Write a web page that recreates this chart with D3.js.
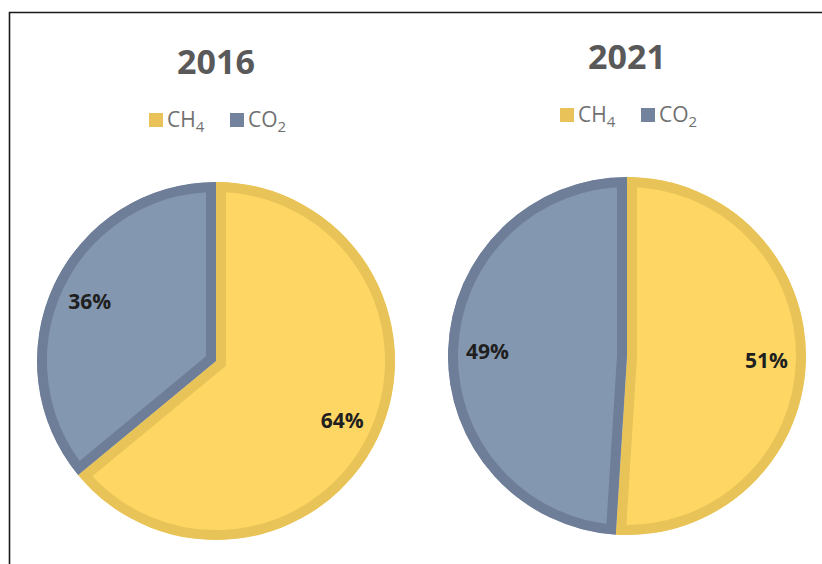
<!DOCTYPE html>
<html>
<head>
<meta charset="utf-8">
<script src="https://cdn.jsdelivr.net/npm/d3@7"></script>
<style>
  body { margin: 0; background: #fff; }
  svg { display: block; }
</style>
</head>
<body>
<div id="chart"></div>
<script>
// data
const years = ['2016', '2021'];
const gases = ['CH4', 'CO2'];
const shares2016 = [64, 36];
const shares2021 = [51, 49];

const w = 822;
const h = 564;
const fills = { CH4: '#FDD664', CO2: '#8497B0' };
const edges = { CH4: '#E8C358', CO2: '#6F7E98' };

const svg = d3.select('#chart')
  .append('svg')
  .attr('width', w)
  .attr('height', h);

// frame (top and left edges visible, rest cut off)
svg.append('path')
  .attr('d', 'M9.5,' + h + ' L9.5,12.5 L' + w + ',12.5')
  .attr('fill', 'none')
  .attr('stroke', '#1a1a1a')
  .attr('stroke-width', 1.6);

const defs = svg.append('defs');

const charts = [
  { year: years[0], values: shares2016, cx: 216, cy: 361, r: 179, titleY: 74, legendY: 127 },
  { year: years[1], values: shares2021, cx: 627, cy: 356, r: 179, titleY: 69, legendY: 122 }
];

const pie = d3.pie().sort(null).value(d => d.v);

charts.forEach((c, ci) => {
  const g = svg.append('g').attr('transform', 'translate(' + c.cx + ',' + c.cy + ')');

  svg.append('text')
    .attr('x', c.cx)
    .attr('y', c.titleY)
    .attr('text-anchor', 'middle')
    .attr('font-family', 'Open Sans, DejaVu Sans, sans-serif')
    .attr('font-weight', 'bold')
    .attr('font-size', 34)
    .attr('fill', '#595959')
    .text(c.year);

  // legend
  const leg = svg.append('g').attr('transform', 'translate(' + (c.cx - 67) + ',' + c.legendY + ')');
  gases.forEach((gname, i) => {
    const item = leg.append('g').attr('transform', 'translate(' + (i * 81) + ',0)');
    item.append('rect')
      .attr('x', 0).attr('y', -14)
      .attr('width', 14).attr('height', 14)
      .attr('fill', i === 0 ? '#E9C25A' : '#73839E');
    const t = item.append('text')
      .attr('x', 18)
      .attr('y', 0)
      .attr('font-family', 'Open Sans, DejaVu Sans, sans-serif')
      .attr('font-size', 21)
      .attr('fill', '#707070');
    t.append('tspan').text(gname.slice(0, 2));
    t.append('tspan').attr('font-size', 15).attr('dy', 5).text(gname.slice(2));
  });

  const data = pie(gases.map((gname, i) => ({ k: gname, v: c.values[i] })));
  const arc = d3.arc().innerRadius(0).outerRadius(c.r);
  const labelArc = d3.arc().innerRadius(c.r * 0.78).outerRadius(c.r * 0.78);

  data.forEach((d, i) => {
    const id = 'clip' + ci + '_' + i;
    // clip path lives in the slice's own (translated) user space
    defs.append('clipPath').attr('id', id)
      .append('path')
      .attr('d', arc(d));
    g.append('path')
      .attr('d', arc(d))
      .attr('clip-path', 'url(#' + id + ')')
      .attr('fill', fills[d.data.k])
      .attr('stroke', edges[d.data.k])
      .attr('stroke-width', 20)
      .attr('stroke-linejoin', 'miter');
  });

  data.forEach(d => {
    const p = labelArc.centroid(d);
    g.append('text')
      .attr('x', p[0])
      .attr('y', p[1])
      .attr('dy', '0.35em')
      .attr('text-anchor', 'middle')
      .attr('font-family', 'Open Sans, DejaVu Sans, sans-serif')
      .attr('font-weight', 'bold')
      .attr('font-size', 21)
      .attr('fill', '#1f1f1f')
      .text(d.data.v + '%');
  });
});
</script>
</body>
</html>
